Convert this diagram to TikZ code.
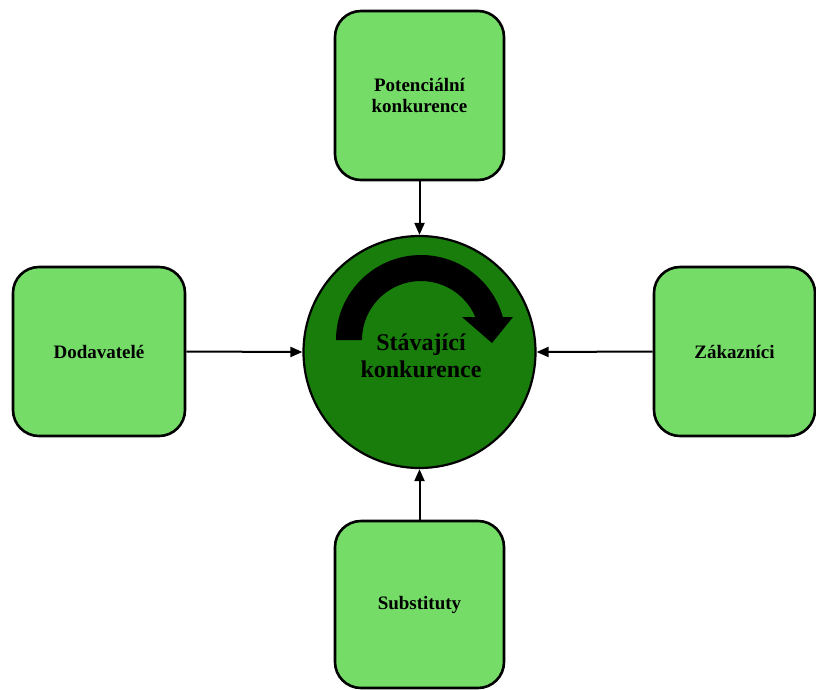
\documentclass[tikz,border=0pt]{standalone}
\usepackage{fontspec}
\setmainfont{Liberation Serif}
\usetikzlibrary{arrows.meta}
\definecolor{boxgreen}{HTML}{75DC68}
\definecolor{coregreen}{HTML}{187D0B}
\tikzset{
  force/.style={draw=black, line width=2.6pt, fill=boxgreen, rounded corners=26pt,
    align=center, inner sep=0pt,
    font=\fontsize{19}{21}\selectfont\bfseries},
  flow/.style={line width=2pt, -{Triangle[length=12pt,width=10pt]}},
}
\begin{document}
\begin{tikzpicture}[x=1pt, y=-1pt]
  \useasboundingbox (0,0) rectangle (816,689);

  % central circle: existing competition
  \node[circle, draw=black, line width=2.2pt, fill=coregreen,
        minimum size=232pt, inner sep=0pt] (core) at (419.5,352) {};

  % the five forces around it
  \node[force, minimum width=169pt, minimum height=169pt] (pot) at (419.5,95.5)
    {Potenciální\\konkurence};
  \node[force, minimum width=172pt, minimum height=169pt] (dod) at (99,351.5)
    {Dodavatelé};
  \node[force, minimum width=161pt, minimum height=169pt] (zak) at (734.5,351.5)
    {Zákazníci};
  \node[force, minimum width=169pt, minimum height=167pt] (sub) at (419.5,604.5)
    {Substituty};

  % rotating arrow inside the circle
  \fill[black] (336,340) arc[start angle=-180, end angle=-15.7, radius=85]
    -- (513,317) -- (492,343) -- (462,317) -- (475.3,317)
    arc[start angle=-22.95, end angle=-180, radius=59] -- cycle;

  \node[align=center, inner sep=0pt,
        font=\fontsize{24}{27}\selectfont\bfseries] (coretext) at (421,356)
    {Stávající\\konkurence};

  % connectors
  \draw[flow] (pot.south) -- (core.north);
  \draw[flow] (dod.east) -- (core.west);
  \draw[flow] (zak.west) -- (core.east);
  \draw[flow] (sub.north) -- (core.south);
\end{tikzpicture}
\end{document}
